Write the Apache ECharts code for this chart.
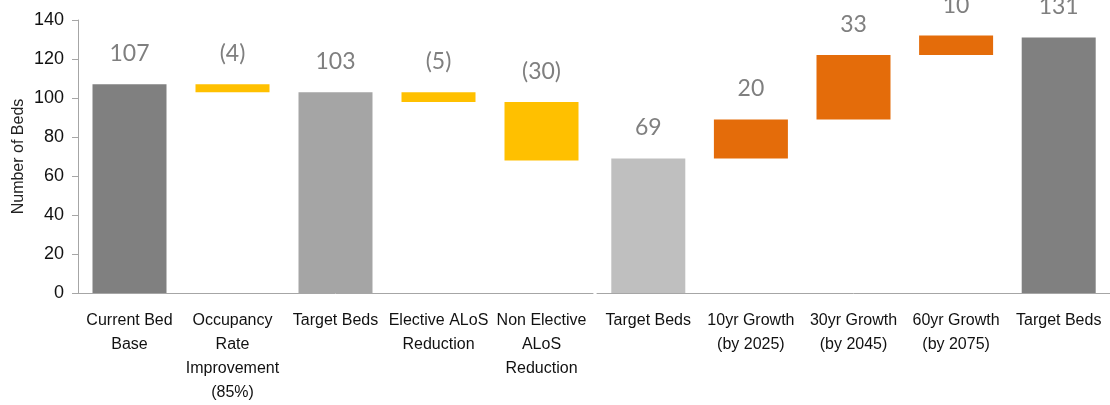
<!DOCTYPE html>
<html>
<head>
	<meta charset="utf-8">
	<title>Number of Beds</title>
	<script src="https://cdn.jsdelivr.net/npm/echarts@6/dist/echarts.min.js"></script>
</head>
<body style="margin:0">
	<div id="main" style="width: 1110px;height:405px;"></div>
	<script type="text/javascript">
	// left panel
	var leftCats = ['Current Bed\nBase', 'Occupancy\nRate\nImprovement\n(85%)', 'Target Beds', 'Elective ALoS\nReduction', 'Non Elective\nALoS\nReduction'];
	var leftBase = [0, 103, 0, 98, 68];
	var leftVals = [107, 4, 103, 5, 30];
	var leftLabels = ['107', '(4)', '103', '(5)', '(30)'];
	var leftColors = ['#808080', '#FFC000', '#A5A5A5', '#FFC000', '#FFC000'];

	// right panel
	var rightCats = ['Target Beds', '10yr Growth\n(by 2025)', '30yr Growth\n(by 2045)', '60yr Growth\n(by 2075)', 'Target Beds'];
	var rightBase = [0, 69, 89, 122, 0];
	var rightVals = [69, 20, 33, 10, 131];
	var rightLabels = ['69', '20', '33', '10', '131'];
	var rightColors = ['#BFBFBF', '#E46C0A', '#E46C0A', '#E46C0A', '#808080'];

	var narrow = "'Liberation Sans Narrow', 'Arial Narrow', 'Liberation Sans', sans-serif";

	function xAx(idx, cats) {
		return {
			type: 'category', gridIndex: idx, data: cats,
			axisLine: { lineStyle: { color: '#A6A6A6', width: 1 } },
			axisTick: { show: false },
			axisLabel: { interval: 0, color: '#111', fontSize: 16, fontFamily: narrow, lineHeight: 24, margin: 16 }
		};
	}
	function yAx(idx, show) {
		return {
			type: 'value', gridIndex: idx, min: 0, max: 140, interval: 20,
			show: show,
			name: show ? 'Number of Beds' : '',
			nameLocation: 'middle', nameGap: 51, nameRotate: 90,
			nameTextStyle: { color: '#222', fontSize: 16, fontFamily: narrow },
			splitLine: { show: false },
			axisLine: { show: true, lineStyle: { color: '#A6A6A6' } },
			axisTick: { show: true, inside: false, length: 6, lineStyle: { color: '#A6A6A6' } },
			axisLabel: { color: '#111', fontSize: 18, fontFamily: narrow, margin: 14 }
		};
	}
	function bars(idx, base, vals, labels, colors) {
		return [{
			type: 'bar', xAxisIndex: idx, yAxisIndex: idx, stack: 's' + idx,
			data: base, barWidth: 74, silent: true,
			itemStyle: { color: 'transparent' }
		}, {
			type: 'bar', xAxisIndex: idx, yAxisIndex: idx, stack: 's' + idx,
			barWidth: 74,
			data: vals.map(function (v, i) { return { value: v, itemStyle: { color: colors[i] } }; }),
			label: {
				show: true, position: 'top', distance: 19,
				color: '#7F7F7F', fontSize: 23, fontFamily: 'Lato, sans-serif',
				formatter: function (p) { return labels[p.dataIndex]; }
			}
		}];
	}

	var myChart = echarts.init(document.getElementById('main'));
	option = {
		animation: false,
		grid: [
			{ left: 78, right: 517, top: 20, bottom: 112 },
			{ left: 597, right: 0, top: 20, bottom: 112 }
		],
		xAxis: [xAx(0, leftCats), xAx(1, rightCats)],
		yAxis: [yAx(0, true), yAx(1, false)],
		series: bars(0, leftBase, leftVals, leftLabels, leftColors)
			.concat(bars(1, rightBase, rightVals, rightLabels, rightColors))
	};
	myChart.setOption(option);
	</script>
</body>
</html>
